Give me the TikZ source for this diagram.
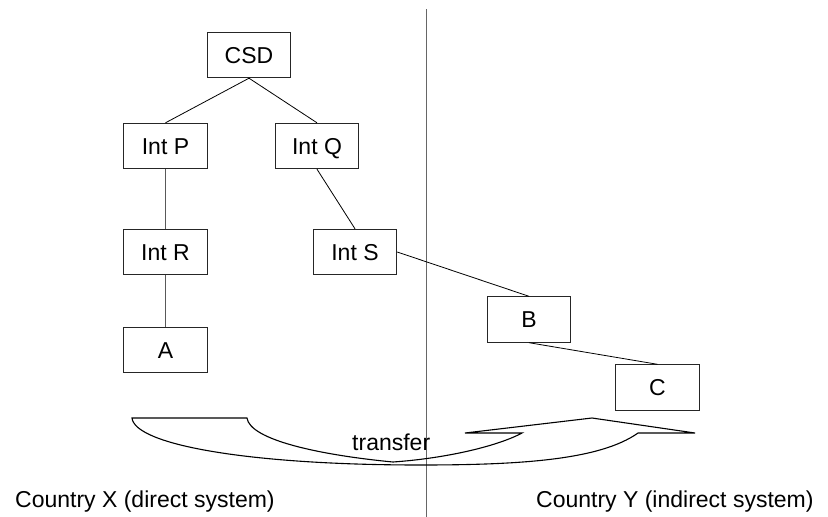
\documentclass[tikz,border=0pt]{standalone}
\usepackage{fontspec}
\setmainfont{Liberation Sans}
\begin{document}
\begin{tikzpicture}[x=1pt,y=-1pt,
  every node/.style={font=\fontsize{23}{27}\selectfont},
  entity/.style={draw=black!85, line width=0.9pt, fill=white,
    minimum width=83.5pt, minimum height=45.5pt, inner sep=0pt,
    text height=16.5pt, text depth=0pt},
  link/.style={draw=black, line width=0.8pt},
  vlink/.style={draw=black!65, line width=1.3pt},
  divider/.style={draw=black!60, line width=1.5pt},
  label/.style={inner sep=0pt, anchor=base west}]
\useasboundingbox (0,0) rectangle (828,517);

% border between the two countries
\coordinate (dtop) at (426.7,9);
\coordinate (dbot) at (426.7,517);
\draw[divider] (dtop) -- (dbot);

% holding chain
\node[entity] (csd) at (249,55) {CSD};
\node[entity] (intp) at (165.5,146) {Int P};
\node[entity] (intq) at (317,146) {Int Q};
\node[entity] (intr) at (165.5,252) {Int R};
\node[entity] (ints) at (355,252) {Int S};
\node[entity] (a) at (165.5,350) {A};
\node[entity] (b) at (529,319.5) {B};
\node[entity] (c) at (657.5,387.5) {C};

\draw[link] (csd.south) -- (intp.north);
\draw[link] (csd.south) -- (intq.north);
\draw[vlink] (intp.south) -- (intr.north);
\draw[vlink] (intr.south) -- (a.north);
\draw[link] (intq.south) -- (ints.north);
\draw[link] (ints.east) -- (b.north);
\draw[link] (b.south) -- (c.north);

% broad curved transfer arrow
\draw[line width=1.1pt, line join=miter]
  (132,418) -- (247,418)
  .. controls (250,440) and (320,455) .. (393,462)
  .. controls (450,458) and (500,445) .. (522,433)
  -- (465,433) -- (592,418) -- (695,433) -- (638,433)
  .. controls (600,460) and (520,465) .. (420,465)
  .. controls (250,465) and (135,445) .. (132,418) -- cycle;

\node[label] (transfer) at (352,450) {transfer};
\node[label] (countryx) at (15,507) {Country X (direct system)};
\node[label] (countryy) at (536,507) {Country Y (indirect system)};
\end{tikzpicture}
\end{document}
